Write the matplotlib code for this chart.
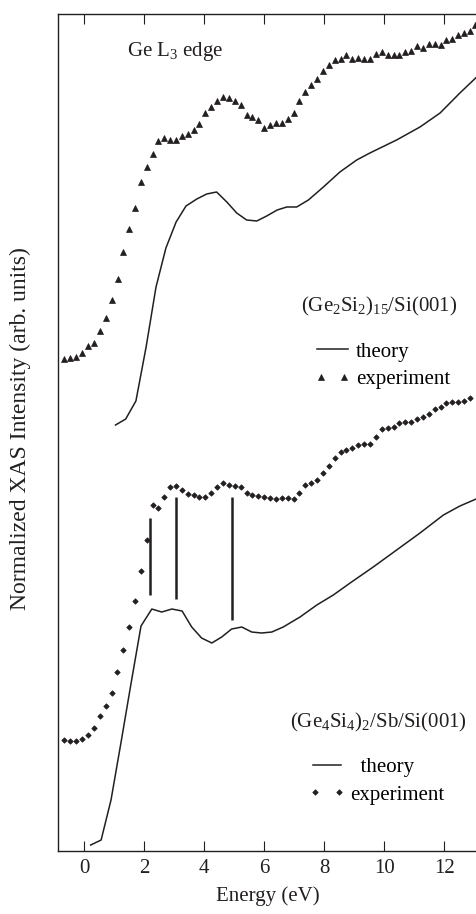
import matplotlib
matplotlib.use("Agg")
import matplotlib.pyplot as plt
from matplotlib.legend_handler import HandlerLine2D

plt.rcParams['font.family'] = ['Liberation Serif', 'DejaVu Serif']
plt.rcParams['mathtext.fontset'] = 'custom'
plt.rcParams['mathtext.rm'] = 'Liberation Serif'
plt.rcParams['mathtext.it'] = 'Liberation Serif:italic'
plt.rcParams['font.size'] = 15

ink = '#231f20'

# (Ge2Si2)15/Si(001) - experiment
exp1_e = [-0.67, -0.47, -0.28, -0.08, 0.11, 0.31, 0.51, 0.71, 0.91, 1.11,
          1.30, 1.50, 1.70, 1.88, 2.08, 2.28, 2.47, 2.67, 2.86, 3.06,
          3.26, 3.45, 3.65, 3.83, 4.03, 4.23, 4.43, 4.62, 4.82, 5.01,
          5.21, 5.41, 5.60, 5.80, 6.00, 6.19, 6.39, 6.59, 6.78, 6.98,
          7.17, 7.37, 7.57, 7.77, 7.96, 8.16, 8.35, 8.55, 8.73, 8.93,
          9.13, 9.33, 9.52, 9.72, 9.91, 10.11, 10.31, 10.50, 10.70, 10.90,
          11.09, 11.29, 11.49, 11.68, 11.88, 12.07, 12.27, 12.47, 12.66, 12.86,
          13.02]
exp1_i = [4.92, 4.93, 4.94, 4.98, 5.05, 5.08, 5.20, 5.33, 5.51, 5.72,
          5.99, 6.22, 6.43, 6.69, 6.84, 6.97, 7.10, 7.13, 7.11, 7.11,
          7.15, 7.17, 7.21, 7.27, 7.38, 7.44, 7.50, 7.54, 7.53, 7.50,
          7.46, 7.36, 7.34, 7.31, 7.23, 7.26, 7.28, 7.28, 7.32, 7.38,
          7.50, 7.59, 7.66, 7.72, 7.80, 7.86, 7.91, 7.92, 7.96, 7.92,
          7.93, 7.92, 7.92, 7.97, 7.99, 7.96, 7.96, 7.96, 7.99, 8.00,
          8.05, 8.03, 8.07, 8.07, 8.06, 8.11, 8.12, 8.16, 8.18, 8.20,
          8.26]

# (Ge2Si2)15/Si(001) - theory
th1_e = [1.04, 1.38, 1.72, 2.06, 2.39, 2.72, 3.06, 3.39, 3.75, 4.08,
         4.41, 4.75, 5.08, 5.41, 5.75, 6.08, 6.43, 6.75, 7.08, 7.47,
         7.97, 8.52, 9.08, 9.52, 10.41, 11.19, 11.86, 12.52, 13.08]
th1_i = [4.26, 4.32, 4.50, 5.04, 5.64, 6.03, 6.29, 6.45, 6.52, 6.57,
         6.59, 6.49, 6.38, 6.31, 6.30, 6.35, 6.41, 6.44, 6.44, 6.51,
         6.64, 6.79, 6.91, 6.98, 7.11, 7.24, 7.38, 7.58, 7.74]

# (Ge4Si4)2/Sb/Si(001) - experiment
exp2_e = [-0.67, -0.47, -0.28, -0.08, 0.12, 0.31, 0.51, 0.71, 0.91, 1.10,
          1.30, 1.50, 1.70, 1.88, 2.08, 2.28, 2.47, 2.67, 2.86, 3.06,
          3.26, 3.45, 3.65, 3.83, 4.03, 4.23, 4.43, 4.62, 4.82, 5.01,
          5.21, 5.41, 5.60, 5.80, 6.00, 6.19, 6.39, 6.59, 6.78, 6.98,
          7.17, 7.37, 7.57, 7.77, 7.96, 8.16, 8.35, 8.55, 8.73, 8.93,
          9.13, 9.33, 9.52, 9.72, 9.91, 10.11, 10.31, 10.50, 10.70, 10.90,
          11.09, 11.29, 11.49, 11.68, 11.88, 12.07, 12.27, 12.47, 12.66, 12.86]
exp2_i = [1.11, 1.10, 1.10, 1.12, 1.16, 1.23, 1.35, 1.45, 1.58, 1.79,
          2.01, 2.24, 2.50, 2.80, 3.11, 3.46, 3.43, 3.54, 3.64, 3.65,
          3.61, 3.57, 3.56, 3.54, 3.54, 3.58, 3.64, 3.68, 3.66, 3.65,
          3.64, 3.58, 3.56, 3.55, 3.54, 3.53, 3.52, 3.53, 3.53, 3.52,
          3.58, 3.66, 3.68, 3.71, 3.78, 3.85, 3.93, 3.99, 4.01, 4.03,
          4.06, 4.07, 4.07, 4.14, 4.22, 4.23, 4.24, 4.28, 4.29, 4.29,
          4.32, 4.34, 4.37, 4.42, 4.44, 4.48, 4.49, 4.49, 4.50, 4.53]

# (Ge4Si4)2/Sb/Si(001) - theory
th2_e = [0.21, 0.56, 0.89, 1.22, 1.56, 1.89, 2.25, 2.58, 2.92, 3.26,
         3.58, 3.91, 4.25, 4.58, 4.91, 5.25, 5.58, 5.91, 6.25, 6.63,
         7.19, 7.75, 8.30, 8.86, 9.63, 10.41, 11.19, 11.97, 12.52, 13.06]
th2_i = [0.06, 0.11, 0.51, 1.08, 1.68, 2.25, 2.42, 2.39, 2.42, 2.40,
         2.24, 2.13, 2.08, 2.14, 2.22, 2.24, 2.19, 2.18, 2.19, 2.24,
         2.34, 2.46, 2.56, 2.68, 2.84, 3.01, 3.18, 3.36, 3.45, 3.52]

# peak markers linking theory and experiment features
bar_e = [2.19, 3.06, 4.92]
bar_lo = [2.56, 2.52, 2.31]
bar_hi = [3.33, 3.54, 3.54]

xticks = [0, 2, 4, 6, 8, 10, 12]

fig = plt.figure(figsize=(4.77, 9.14), dpi=100)
ax = fig.add_axes([0.1216, 0.0689, 0.8784, 0.9158])

l1, = ax.plot(th1_e, th1_i, color=ink, lw=1.1, label='theory')
p1, = ax.plot(exp1_e, exp1_i, ls='none', marker='^', ms=3.9, mew=0.5,
              color=ink, label='experiment')
l2, = ax.plot(th2_e, th2_i, color=ink, lw=1.1, label='  theory')
p2, = ax.plot(exp2_e, exp2_i, ls='none', marker='D', ms=2.8, mew=0.5,
              color=ink, label='experiment')
ax.vlines(bar_e, bar_lo, bar_hi, color=ink, lw=1.8)

ax.set_xlim(-0.877, 13.09)
ax.set_ylim(0, 8.37)
ax.set_xticks(xticks)
ax.set_yticks([])
ax.tick_params(axis='x', direction='in', top=True, length=7, width=0.8,
               pad=6, colors=ink, labelsize=15)
ax.spines['right'].set_visible(False)
for s in ['left', 'top', 'bottom']:
    ax.spines[s].set_linewidth(1.0)
    ax.spines[s].set_color(ink)

ax.set_xlabel('Energy (eV)', color=ink, labelpad=6)
ax.set_ylabel('Normalized XAS Intensity (arb. units)', color=ink,
              fontsize=17, va='center')
ax.yaxis.set_label_coords(-0.0895, 0.505)

ax.text(0.165, 0.955, 'Ge L$_3$ edge', transform=ax.transAxes,
        ha='left', va='center', color=ink)
ax.text(0.766, 0.650, '(Ge$_2$Si$_2$)$_{15}$/Si(001)', transform=ax.transAxes,
        ha='center', va='center', color=ink)
ax.text(0.764, 0.154, '(Ge$_4$Si$_4$)$_2$/Sb/Si(001)', transform=ax.transAxes,
        ha='center', va='center', color=ink)

leg1 = ax.legend([l1, p1], ['theory', 'experiment'], loc='center left',
                 bbox_to_anchor=(0.617, 0.580), frameon=False, borderpad=0,
                 borderaxespad=0, handlelength=1.5, handletextpad=0.4,
                 labelspacing=0.38,
                 handler_map={l1: HandlerLine2D(numpoints=1),
                              p1: HandlerLine2D(numpoints=2, marker_pad=0.2)})
ax.add_artist(leg1)
ax.legend([l2, p2], ['  theory', 'experiment'], loc='center left',
          bbox_to_anchor=(0.609, 0.0835), frameon=False, borderpad=0,
          borderaxespad=0, handlelength=1.35, handletextpad=0.42,
          labelspacing=0.38,
          handler_map={l2: HandlerLine2D(numpoints=1),
                       p2: HandlerLine2D(numpoints=2, marker_pad=0.1)})

fig.savefig('out.png', dpi=100)
